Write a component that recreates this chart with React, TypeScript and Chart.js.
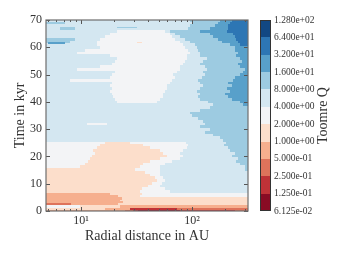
import React, { useEffect, useRef } from "react";
import { Chart, registerables } from "chart.js";
Chart.register(...registerables);

// Toomre Q contour levels (colorbar boundaries, bottom -> top)
const levelLabels = [
  "6.125e-02", "1.250e-01", "2.500e-01", "5.000e-01", "1.000e+00", "2.000e+00",
  "4.000e+00", "8.000e+00", "1.600e+01", "3.200e+01", "6.400e+01", "1.280e+02",
];
// band colours (RdBu), band i lies between levelLabels[i] and levelLabels[i+1]
const levelColors = [
  "#890b24", "#bf3237", "#de735b", "#f6af8e", "#fcdecb", "#f3f4f6",
  "#d4e7f1", "#9dcbe1", "#58a0ca", "#2d76b4", "#124883",
];
const timeTicks = [0, 10, 20, 30, 40, 50, 60, 70];
const radiusTicks = [10, 100];
const radiusMinor = [5, 6, 7, 8, 9, 20, 30, 40, 50, 60, 70, 80, 90, 200, 300];
const radiusRange = [4.84, 320];
const timeRange = [0, 70];

// start time (kyr) of each row of the field
const rowStart = [
  0, 0.5, 1.2, 2.1, 2.8, 3.5, 4.2, 5.0, 5.8, 6.7, 7.7, 8.7, 9.7, 10.7, 11.7, 12.7, 13.7, 14.7,
  15.7, 16.7, 17.7, 18.7, 19.7, 20.7, 21.7, 22.7, 23.7, 24.7,
  25.4, 26.4, 27.4, 28.4, 29.4, 30.4, 31.4, 32.4, 33.4, 34.4, 35.4, 36.4, 37.4, 38.4, 39.4,
  40.4, 41.4, 42.4, 43.4, 44.4, 45.4, 46.4, 47.4, 48.4, 49.4, 50.4, 51.4, 52.4, 53.4, 54.4,
  55.4, 56.4, 57.4, 58.4, 59.4, 60.4, 61.4, 62.4, 63.4, 64.4, 65.4, 66.4, 67.4, 68.4, 69.4,
];
// per row: [band, radius (AU) where the band ends, band, radius, ...]
const rowBands = [
  [3, 24.9, 2, 29.4, 1, 32.6, 0, 78, 1, 244, 2, 400],
  [4, 16.5, 3, 27.6, 1, 73, 2, 400],
  [5, 9.8, 4, 22.4, 3, 400],
  [2, 8.13, 3, 21.5, 4, 400],
  [3, 23.9, 4, 400],
  [3, 22.4, 4, 400],
  [3, 23.4, 4, 400],
  [3, 21.5, 4, 34, 5, 400],
  [3, 18.2, 4, 35.5, 5, 400],
  [4, 34, 5, 63.4, 6, 400],
  [4, 35.5, 5, 57.1, 6, 400],
  [4, 40.1, 5, 51.5, 6, 400],
  [4, 43.6, 5, 53.7, 6, 400],
  [4, 48.4, 5, 57.1, 6, 400],
  [4, 46.4, 5, 54.8, 6, 400],
  [4, 41.8, 5, 51.5, 6, 400],
  [4, 37.7, 5, 51.5, 6, 400],
  [4, 30.6, 5, 51.5, 6, 300, 7, 400],
  [5, 9.8, 4, 34, 5, 51.5, 6, 300, 7, 400],
  [5, 10.9, 4, 36.1, 5, 57.1, 6, 271, 7, 400],
  [5, 11.6, 4, 41.8, 5, 66.1, 6, 249, 7, 400],
  [5, 12, 4, 51.5, 5, 78, 6, 259, 7, 400],
  [5, 12.6, 4, 59.6, 5, 82.9, 6, 229, 7, 400],
  [5, 13.4, 4, 54.8, 5, 78, 6, 244, 7, 400],
  [5, 12.8, 4, 51.5, 5, 82.9, 6, 220, 7, 400],
  [5, 13.9, 4, 41.8, 5, 90.2, 6, 210, 7, 400],
  [5, 14.8, 4, 36.1, 5, 92, 6, 194, 7, 400],
  [5, 16.5, 4, 27.6, 5, 88.3, 6, 202, 7, 400],
  [6, 190, 7, 400],
  [6, 179, 7, 400],
  [6, 154.6, 7, 400],
  [6, 131, 7, 400],
  [6, 145, 7, 400],
  [6, 118, 7, 400],
  [6, 131, 7, 400],
  [6, 126, 7, 400],
  [6, 113, 7, 400],
  [6, 100, 7, 400],
  [6, 96, 7, 400],
  [6, 118, 7, 400],
  [6, 145, 7, 400],
  [6, 154.6, 7, 288, 8, 400],
  [6, 21.1, 5, 48.4, 6, 139, 7, 271, 8, 400],
  [6, 20.2, 5, 51.5, 6, 118, 7, 229, 8, 400],
  [6, 19.4, 5, 54.8, 6, 113, 7, 210, 8, 400],
  [6, 19.0, 5, 54.8, 6, 118, 7, 198, 8, 400],
  [6, 18.2, 5, 57.1, 6, 111, 7, 220, 8, 400],
  [6, 19.0, 5, 59.6, 6, 118, 7, 206, 8, 400],
  [6, 18.2, 5, 59.6, 6, 126, 7, 229, 8, 400],
  [6, 19.0, 5, 63.4, 6, 118, 7, 210, 8, 400],
  [6, 8.0, 5, 66.1, 6, 113, 7, 234, 8, 400],
  [6, 18.2, 5, 70.3, 6, 123, 7, 244, 8, 400],
  [6, 19.0, 5, 67.5, 6, 131, 7, 271, 8, 400],
  [6, 20.2, 5, 73.3, 6, 126, 7, 288, 8, 400],
  [6, 9.2, 5, 78, 6, 136.5, 7, 300, 8, 400],
  [6, 14.8, 5, 78, 6, 131, 7, 271, 8, 400],
  [6, 19.0, 5, 82.9, 6, 118, 7, 259, 8, 400],
  [6, 20.2, 5, 86.6, 6, 126, 7, 283, 8, 400],
  [6, 21.1, 5, 90.2, 6, 136.5, 7, 271, 8, 400],
  [6, 18.2, 5, 90.2, 6, 118, 7, 249, 8, 400],
  [6, 9.2, 5, 96, 6, 118, 7, 259, 8, 400],
  [6, 10.9, 5, 92, 6, 113, 7, 244, 8, 400],
  [6, 14.8, 5, 86.6, 6, 111, 7, 244, 8, 400],
  [6, 13.9, 5, 82.9, 6, 107, 7, 220, 8, 271, 9, 400],
  [7, 8.0, 6, 13.9, 5, 78, 6, 96, 7, 186, 8, 259, 9, 400],
  [7, 8.8, 6, 14.8, 5, 70.3, 6, 87, 7, 171.5, 8, 249, 9, 400],
  [6, 16.5, 5, 66.1, 6, 78, 7, 154.6, 8, 244, 9, 400],
  [6, 18.2, 5, 63.4, 6, 70.3, 7, 145, 8, 234, 9, 400],
  [6, 21.1, 5, 57.1, 6, 63.4, 7, 118, 8, 206, 9, 400],
  [6, 6.5, 7, 8.8, 6, 92, 7, 145, 8, 210, 9, 400],
  [6, 96, 7, 161, 8, 210, 9, 400],
  [7, 7.2, 6, 100, 7, 171.5, 8, 220, 9, 400],
  [6, 96, 7, 179, 8, 229, 9, 400],
];
// small patches: [t start, t end, r start, r end, band]
const islands = [
  [61.2, 62.0, 5.0, 7.2, 8],
  [61.6, 62.1, 32.0, 35.5, 4],
  [66.9, 67.5, 21.1, 32.0, 7],
  [31.6, 32.3, 11.3, 17.1, 5],
];

const FONT = "'Liberation Serif', 'DejaVu Serif', serif";
const TEXT = "#333333";

const fieldPlugin = {
  id: "field",
  beforeDatasetsDraw(chart: any) {
    const { ctx, chartArea: a, scales } = chart;
    const xs = scales.x;
    const ys = scales.y;
    const px = (r: number) =>
      Math.round(xs.getPixelForValue(Math.min(Math.max(r, radiusRange[0]), radiusRange[1])));
    const py = (t: number) => Math.round(ys.getPixelForValue(t));
    ctx.save();
    ctx.beginPath();
    ctx.rect(a.left, a.top, a.right - a.left, a.bottom - a.top);
    ctx.clip();
    rowStart.forEach((t0, i) => {
      const t1 = i + 1 < rowStart.length ? rowStart[i + 1] : timeRange[1];
      const yTop = py(t1);
      const yBot = py(t0);
      const segs = rowBands[i];
      let r0 = radiusRange[0];
      for (let k = 0; k < segs.length; k += 2) {
        const lvl = segs[k];
        const r1 = segs[k + 1];
        const x0 = px(r0);
        const x1 = px(r1);
        ctx.fillStyle = levelColors[lvl];
        ctx.fillRect(x0, yTop, x1 - x0, yBot - yTop);
        r0 = r1;
      }
    });
    islands.forEach(([t0, t1, r0, r1, lvl]) => {
      ctx.fillStyle = levelColors[lvl];
      const x0 = px(r0), x1 = px(r1), y0 = py(t1), y1 = py(t0);
      ctx.fillRect(x0, y0, x1 - x0, Math.max(1, y1 - y0));
    });
    ctx.restore();
  },
  afterDraw(chart: any) {
    const { ctx, chartArea: a, scales } = chart;
    const xs = scales.x;
    const ys = scales.y;
    const cb = scales.cb;
    ctx.save();
    // inward ticks
    ctx.strokeStyle = "#555";
    ctx.lineWidth = 1;
    ctx.beginPath();
    timeTicks.forEach((t) => {
      const y = Math.round(ys.getPixelForValue(t)) + 0.5;
      ctx.moveTo(a.left, y); ctx.lineTo(a.left + 4, y);
      ctx.moveTo(a.right, y); ctx.lineTo(a.right - 4, y);
    });
    radiusTicks.forEach((r) => {
      const x = Math.round(xs.getPixelForValue(r)) + 0.5;
      ctx.moveTo(x, a.bottom); ctx.lineTo(x, a.bottom - 4);
      ctx.moveTo(x, a.top); ctx.lineTo(x, a.top + 4);
    });
    radiusMinor.forEach((r) => {
      const x = Math.round(xs.getPixelForValue(r)) + 0.5;
      ctx.moveTo(x, a.bottom); ctx.lineTo(x, a.bottom - 2);
      ctx.moveTo(x, a.top); ctx.lineTo(x, a.top + 2);
    });
    ctx.stroke();
    // frame
    ctx.strokeStyle = "#6e6e6e";
    ctx.lineWidth = 1.2;
    ctx.strokeRect(a.left, a.top, a.right - a.left, a.bottom - a.top);
    // colorbar
    const bx0 = a.right + 12;
    const bx1 = a.right + 23;
    for (let i = 0; i < levelColors.length; i++) {
      const y0 = Math.round(cb.getPixelForValue(i + 1));
      const y1 = Math.round(cb.getPixelForValue(i));
      ctx.fillStyle = levelColors[i];
      ctx.fillRect(bx0, y0, bx1 - bx0, y1 - y0);
    }
    ctx.strokeStyle = "#333";
    ctx.lineWidth = 1;
    ctx.strokeRect(bx0 + 0.5, a.top + 0.5, bx1 - bx0 - 1, a.bottom - a.top - 1);
    // colorbar title
    ctx.fillStyle = TEXT;
    ctx.font = `14px ${FONT}`;
    ctx.textAlign = "center";
    ctx.textBaseline = "middle";
    ctx.translate(323, (a.top + a.bottom) / 2);
    ctx.rotate(-Math.PI / 2);
    ctx.fillText("Toomre Q", 0, 0);
    ctx.restore();
  },
};

export default function App() {
  const ref = useRef<HTMLCanvasElement | null>(null);
  useEffect(() => {
    if (!ref.current) return;
    const chart = new Chart(ref.current, {
      type: "scatter",
      data: { datasets: [] },
      options: {
        responsive: false,
        animation: false,
        events: [],
        layout: { padding: { top: 20, right: 26, left: 0, bottom: 0 } },
        plugins: { legend: { display: false }, tooltip: { enabled: false } },
        scales: {
          x: {
            type: "logarithmic",
            position: "bottom",
            min: radiusRange[0],
            max: radiusRange[1],
            afterBuildTicks: (s: any) => {
              s.ticks = radiusTicks.map((v) => ({ value: v }));
            },
            afterFit: (s: any) => { s.height = 47; },
            grid: { display: false, drawTicks: false },
            border: { display: false },
            ticks: {
              padding: 3,
              color: TEXT,
              font: { family: FONT, size: 12 },
              maxRotation: 0,
              callback: (v: any) => (v === 10 ? "10\u00b9" : v === 100 ? "10\u00b2" : ""),
            },
            title: {
              display: true,
              text: "Radial distance in AU",
              color: TEXT,
              font: { family: FONT, size: 14 },
              padding: { top: 0, bottom: 13 },
            },
          },
          y: {
            type: "linear",
            position: "left",
            min: timeRange[0],
            max: timeRange[1],
            afterBuildTicks: (s: any) => {
              s.ticks = timeTicks.map((v) => ({ value: v }));
            },
            afterFit: (s: any) => { s.width = 46; },
            grid: { display: false, drawTicks: false },
            border: { display: false },
            ticks: { padding: 4, color: TEXT, font: { family: FONT, size: 12 } },
            title: {
              display: true,
              text: "Time in kyr",
              color: TEXT,
              font: { family: FONT, size: 14 },
              padding: { top: 12, bottom: 0 },
            },
          },
          cb: {
            type: "linear",
            position: "right",
            min: 0,
            max: levelLabels.length - 1,
            afterBuildTicks: (s: any) => {
              s.ticks = levelLabels.map((_, i) => ({ value: i }));
            },
            afterFit: (s: any) => { s.width = 70; },
            grid: {
              drawOnChartArea: false,
              drawTicks: true,
              tickLength: 25,
              color: "rgba(0,0,0,0)",
            },
            border: { display: false },
            ticks: {
              padding: 1,
              color: TEXT,
              font: { family: FONT, size: 9.5 },
              callback: (v: any) => levelLabels[Math.round(v)] ?? "",
            },
          },
        },
      },
      plugins: [fieldPlugin],
    } as any);
    return () => chart.destroy();
  }, []);
  return (
    <div style={{ position: "absolute", left: 0, top: 0, width: 344, height: 258, background: "#fff" }}>
      <canvas ref={ref} width={344} height={258} style={{ display: "block" }} />
    </div>
  );
}
